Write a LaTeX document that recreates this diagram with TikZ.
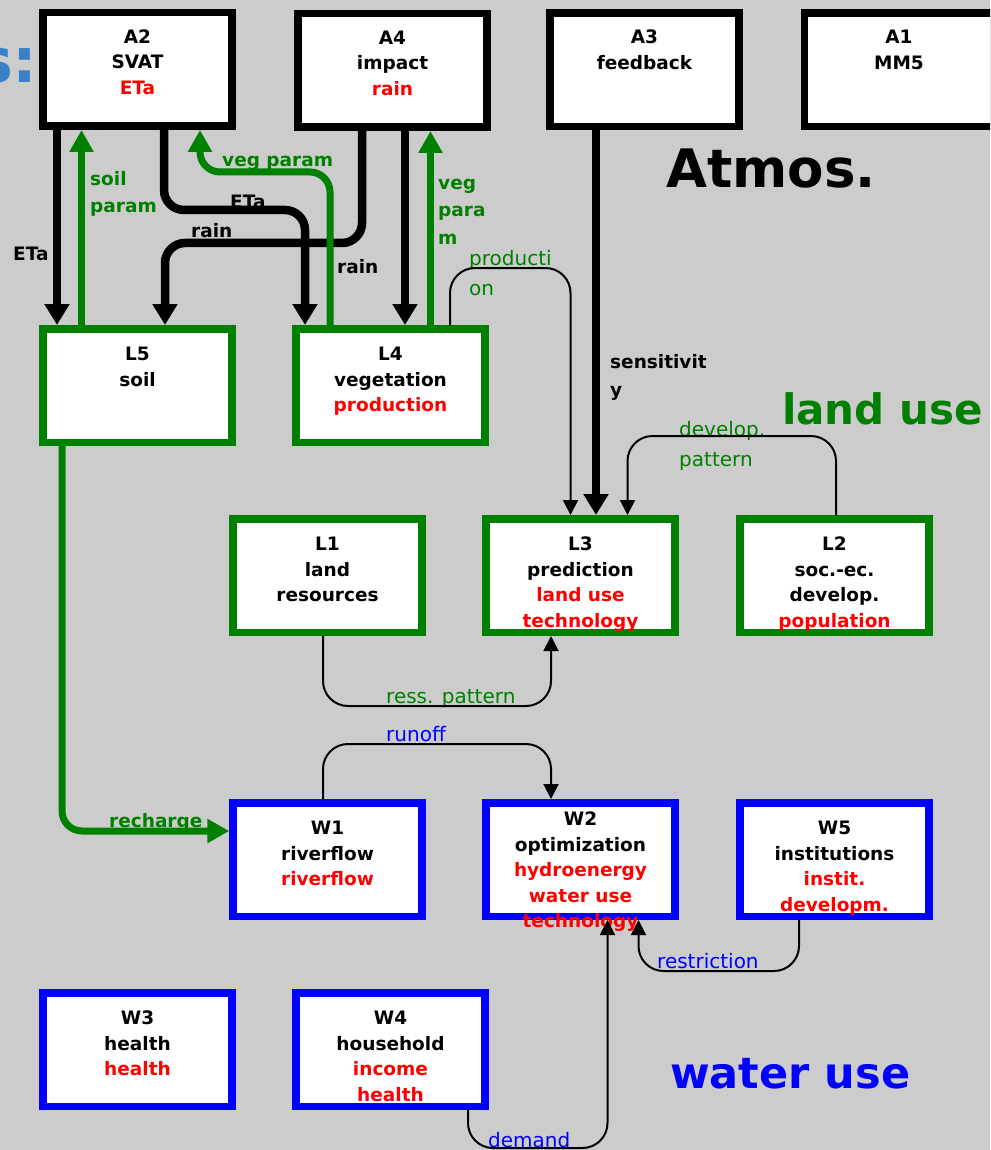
\documentclass[tikz,border=0pt]{standalone}
\usepackage{fontspec}
\setmainfont{DejaVu Sans}
\usetikzlibrary{arrows.meta,positioning}
\definecolor{landgreen}{RGB}{0,128,0}
\definecolor{waterblue}{RGB}{0,0,255}
\definecolor{redtxt}{RGB}{255,0,0}
\definecolor{bggrey}{RGB}{204,204,204}
\definecolor{titleblue}{RGB}{58,128,200}

\begin{document}
\begin{tikzpicture}
    [
      x=1pt, y=-1pt,
      modbox/.style = {draw, fill=white, line width=7.5pt, minimum width=189pt, minimum height=113.5pt, inner sep=0pt},
      atmbox/.style = {modbox, draw=black},
      landbox/.style = {modbox, draw=landgreen},
      waterbox/.style = {modbox, draw=waterblue},
      boxtxt/.style = {align=center, inner sep=0pt, font=\bfseries\fontsize{18.5}{25.5}\selectfont, execute at begin node=\strut},
      flowlab/.style = {anchor=north west, align=left, inner sep=0pt, font=\bfseries\fontsize{18.5}{27.5}\selectfont, execute at begin node=\strut},
      flownote/.style = {anchor=north west, align=left, inner sep=0pt, font=\fontsize{20}{29.5}\selectfont, execute at begin node=\strut},
      bigtitle/.style = {anchor=base west, inner sep=0pt, font=\bfseries\fontsize{42}{50}\selectfont},
      fatflow/.style = {line width=8.5pt, rounded corners=20pt, -{Triangle[width=24pt,length=21pt]}},
      vegflow/.style = {line width=7pt, draw=landgreen, rounded corners=20pt, -{Triangle[width=23pt,length=22pt]}},
      fineflow/.style = {line width=2pt, rounded corners=25pt, -{Triangle[width=15pt,length=15pt]}},
    ]

    \useasboundingbox (0,0) rectangle (990,1150);
    \clip (0,0) rectangle (990,1150);
    \fill[bggrey] (0,0) rectangle (990,1150);

    \node[anchor=base east, inner sep=0pt, text=titleblue, font=\bfseries\fontsize{62}{70}\selectfont] (head) at (38,83) {s:};

    % atmosphere
    \node[atmbox] (a2) at (137.5,69.5) {};
    \node[atmbox] (a4) at (392.5,70.5) {};
    \node[atmbox] (a3) at (644.5,70) {};
    \node[atmbox] (a1) at (899,70) {};
    \node[boxtxt, below=20.5pt of a2.north] (a2t) {A2\\SVAT\\\textcolor{redtxt}{ETa}};
    \node[boxtxt, below=20.5pt of a4.north] (a4t) {A4\\impact\\\textcolor{redtxt}{rain}};
    \node[boxtxt, below=20.5pt of a3.north] (a3t) {A3\\feedback};
    \node[boxtxt, below=20.5pt of a1.north] (a1t) {A1\\MM5};

    % land use
    \node[landbox] (l5) at (137.5,385.5) {};
    \node[landbox] (l4) at (390.5,385.5) {};
    \node[landbox] (l1) at (327.5,575.5) {};
    \node[landbox] (l3) at (580.5,575.5) {};
    \node[landbox] (l2) at (834.5,575.5) {};
    \node[boxtxt, below=22pt of l5.north] (l5t) {L5\\soil};
    \node[boxtxt, below=22pt of l4.north] (l4t) {L4\\vegetation\\\textcolor{redtxt}{production}};
    \node[boxtxt, below=22pt of l1.north] (l1t) {L1\\land\\resources};
    \node[boxtxt, below=22pt of l3.north] (l3t) {L3\\prediction\\\textcolor{redtxt}{land use}\\\textcolor{redtxt}{technology}};
    \node[boxtxt, below=22pt of l2.north] (l2t) {L2\\soc.-ec.\\develop.\\\textcolor{redtxt}{population}};

    % water use
    \node[waterbox] (w1) at (327.5,859.5) {};
    \node[waterbox] (w2) at (580.5,859.5) {};
    \node[waterbox] (w5) at (834.5,859.5) {};
    \node[waterbox] (w3) at (137.5,1049.5) {};
    \node[waterbox] (w4) at (390.5,1049.5) {};
    \node[boxtxt, below=22pt of w1.north] (w1t) {W1\\riverflow\\\textcolor{redtxt}{riverflow}};
    \node[boxtxt, below=13pt of w2.north] (w2t) {W2\\optimization\\\textcolor{redtxt}{hydroenergy}\\\textcolor{redtxt}{water use}\\\textcolor{redtxt}{technology}};
    \node[boxtxt, below=22pt of w5.north] (w5t) {W5\\institutions\\\textcolor{redtxt}{instit.}\\\textcolor{redtxt}{developm.}};
    \node[boxtxt, below=22pt of w3.north] (w3t) {W3\\health\\\textcolor{redtxt}{health}};
    \node[boxtxt, below=22pt of w4.north] (w4t) {W4\\household\\\textcolor{redtxt}{income}\\\textcolor{redtxt}{health}};

    \node[bigtitle, font=\bfseries\fontsize{53}{60}\selectfont] (atmos) at (666,188) {Atmos.};
    \node[bigtitle, text=landgreen] (landuse) at (782,424) {land use};
    \node[bigtitle, text=waterblue, font=\bfseries\fontsize{43}{50}\selectfont] (wateruse) at (670,1088) {water use};

    % flow labels
    \node[flowlab, text=landgreen] (soilp) at (90,170.75) {soil\\param};
    \node[flowlab] (etaleft) at (13,240.75) {ETa};
    \node[flowlab, text=landgreen] (vegp) at (222,146.75) {veg param};
    \node[flowlab] (etamid) at (230,188.75) {ETa};
    \node[flowlab] (rainleft) at (191,217.75) {rain};
    \node[flowlab] (rainright) at (337,253.75) {rain};
    \node[flowlab, text=landgreen] (vegpr) at (438,178.75) {veg\\para\\m};
    \node[flowlab] (sens) at (610,354.25) {sensitivit\\y};
    \node[flowlab, text=landgreen] (rech) at (109,807.75) {recharge};
    \node[flownote, text=landgreen] (prod) at (469,250.35) {producti\\on};
    \node[flownote, text=landgreen] (devp) at (679,421.35) {develop.\\pattern};
    \node[flownote, text=landgreen] (ressp) at (386,682.85) {ress. pattern};
    \node[flownote, text=waterblue] (runoff) at (386,720.35) {runoff};
    \node[flownote, text=waterblue] (restr) at (657,947.35) {restriction};
    \node[flownote, text=waterblue] (dem) at (488,1126.35) {demand};

    % thick flows
    \coordinate (rainin) at ([xshift=14.5]l4.north);
    \coordinate (vegin) at ([xshift=40]l4.north);
    \coordinate (sensin) at ([xshift=15.5]l3.north);
    \draw[fatflow] ([xshift=-80.5]a2.south) -- ([xshift=-80.5]l5.north);
    \draw[vegflow] ([xshift=-56]l5.north) -- ([xshift=-56]a2.south);
    \draw[fatflow] ([xshift=26.5]a2.south) -- ++(0,80) -| ([xshift=-85.5]l4.north);
    \draw[fatflow] ([xshift=-30.5]a4.south) -- ++(0,112) -| ([xshift=27.5]l5.north);
    \draw[fatflow] (rainin |- a4.south) -- (rainin);
    \draw[vegflow] (vegin) -- (vegin |- a4.south);
    \draw[vegflow] ([xshift=-60.5]l4.north) -- ++(0,-153) -| ([xshift=62.5]a2.south);
    \draw[fatflow] (sensin |- a3.south) -- (sensin);
    \draw[vegflow] ([xshift=-75.5]l5.south) |- ([yshift=28.5]w1.west);

    % thin flows
    \draw[fineflow] ([xshift=59.5]l4.north) -- ++(0,-57) -| ([xshift=-10]l3.north);
    \draw[fineflow] ([xshift=1.5]l2.north) -- ++(0,-79) -| ([xshift=47]l3.north);
    \draw[fineflow] ([xshift=-4.5]l1.south) -- ++(0,70) -| ([xshift=-29.5]l3.south);
    \draw[fineflow] ([xshift=-4.5]w1.north) -- ++(0,-55) -| ([xshift=-29.5]w2.north);
    \draw[fineflow] ([xshift=-35.5]w5.south) -- ++(0,51) -| ([xshift=58]w2.south);
    \draw[fineflow] ([xshift=77.5]w4.south) -- ++(0,38) -| ([xshift=27]w2.south);
\end{tikzpicture}
\end{document}
